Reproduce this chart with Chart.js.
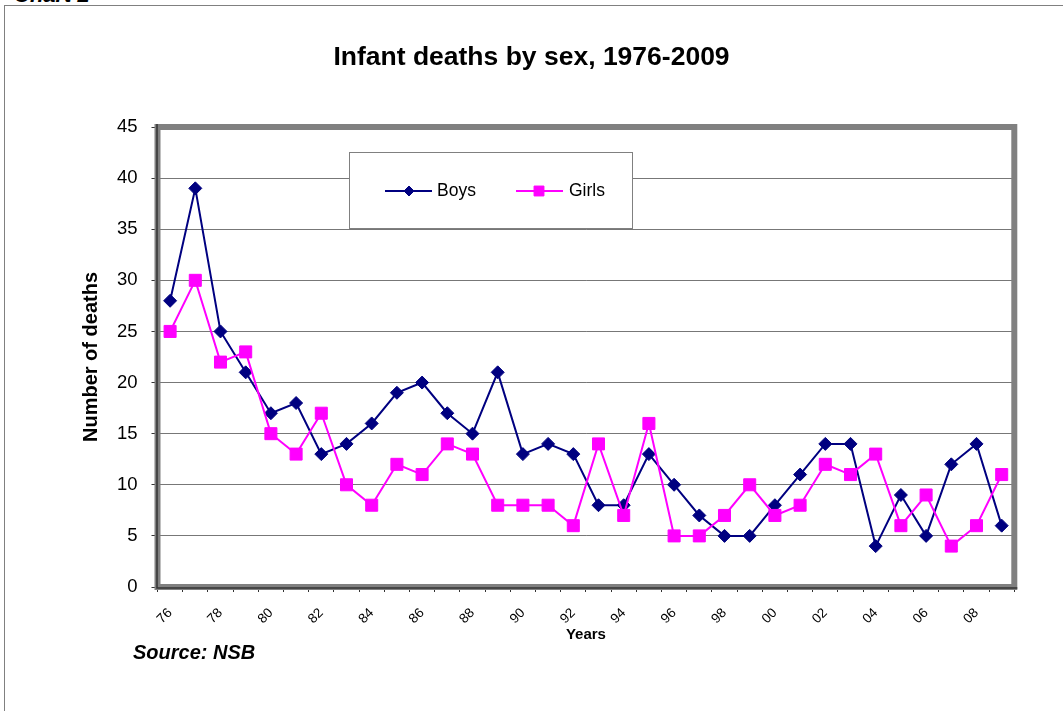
<!DOCTYPE html>
<html>
<head>
<meta charset="utf-8">
<script src="https://cdn.jsdelivr.net/npm/chart.js@4.4.0/dist/chart.umd.min.js"></script>
<style>
html,body{margin:0;padding:0;background:#fff;width:1063px;height:711px;overflow:hidden;position:relative;font-family:"Liberation Sans",Arial,sans-serif;}
#frame{position:absolute;left:4px;top:5px;width:1100px;height:800px;border:1px solid #808080;box-sizing:border-box;}
#caption{position:absolute;left:14px;top:-16px;font:italic bold 22px/22px "Liberation Sans",Arial,sans-serif;color:#000;white-space:nowrap;}
#source{position:absolute;left:133px;top:641px;font:italic bold 20px/22px "Liberation Sans",Arial,sans-serif;color:#000;white-space:nowrap;}
#wrap{position:absolute;left:0;top:0;width:1063px;height:711px;}
</style>
</head>
<body>
<div id="frame"></div>
<div id="caption">Chart 2</div>
<div id="wrap"><canvas id="c" width="1063" height="711"></canvas></div>
<div id="source">Source: NSB</div>
<script>
// ---- data ----
const years = ['76','77','78','79','80','81','82','83','84','85','86','87','88','89','90','91','92','93','94','95','96','97','98','99','00','01','02','03','04','05','06','07','08','09'];
const boys  = [28,39,25,21,17,18,13,14,16,19,20,17,15,21,13,14,13,8,8,13,10,7,5,5,8,11,14,14,4,9,5,12,14,6];
const girls = [25,30,22,23,15,13,17,10,8,12,11,14,13,8,8,8,6,14,7,16,5,5,7,10,7,8,12,11,13,6,9,4,6,11];
const seriesNames = ['Boys','Girls'];
const yMin = 0, yMax = 45, yStep = 5;

const FONT = '"Liberation Sans", Arial, sans-serif';
Chart.defaults.font.family = FONT;
Chart.defaults.color = '#000';

const plotFrame = {
  id: 'plotFrame',
  beforeDatasetsDraw(chart) {
    const {ctx, chartArea: a} = chart;
    ctx.save();
    ctx.strokeStyle = '#808080';
    ctx.lineWidth = 6;
    ctx.strokeRect(a.left, a.top, a.right - a.left, a.bottom - a.top);
    ctx.strokeStyle = '#333';
    ctx.lineWidth = 1.5;
    ctx.beginPath();
    ctx.moveTo(a.left - 0.5, a.top - 3);
    ctx.lineTo(a.left - 0.5, a.bottom + 1);
    ctx.lineTo(a.right + 3, a.bottom + 1);
    ctx.stroke();
    ctx.restore();
  }
};

const boxLegend = {
  id: 'boxLegend',
  afterDraw(chart) {
    const ctx = chart.ctx;
    const bx = 349, by = 152, bw = 283, bh = 76;
    ctx.save();
    ctx.fillStyle = '#fff';
    ctx.fillRect(bx, by, bw, bh);
    ctx.strokeStyle = '#808080';
    ctx.lineWidth = 1;
    ctx.strokeRect(bx + 0.5, by + 0.5, bw, bh);
    const items = [
      {x0: 385, x1: 432, mx: 409, tx: 437, r: 5},
      {x0: 516, x1: 563, mx: 539, tx: 569, r: 7}
    ];
    const y = 191;
    chart.data.datasets.forEach((ds, i) => {
      const it = items[i];
      ctx.strokeStyle = ds.borderColor;
      ctx.lineWidth = 2;
      ctx.beginPath();
      ctx.moveTo(it.x0, y); ctx.lineTo(it.x1, y); ctx.stroke();
      ctx.fillStyle = ds.pointBackgroundColor;
      ctx.lineWidth = 1;
      Chart.helpers.drawPoint(ctx, {pointStyle: ds.pointStyle, rotation: 0, radius: it.r, borderWidth: 1}, it.mx, y);
      ctx.fillStyle = '#000';
      ctx.font = '17.5px ' + FONT;
      ctx.textBaseline = 'middle';
      ctx.textAlign = 'left';
      ctx.fillText(ds.label, it.tx, y);
    });
    ctx.restore();
  }
};

new Chart(document.getElementById('c'), {
  type: 'line',
  data: {
    labels: years,
    datasets: [
      {
        label: seriesNames[0], data: boys, order: 1,
        borderColor: '#000080', backgroundColor: '#000080',
        pointBackgroundColor: '#000080', pointBorderColor: '#000080',
        pointStyle: 'rectRot', pointRadius: 6.5, pointBorderWidth: 1,
        borderWidth: 2, tension: 0, fill: false
      },
      {
        label: seriesNames[1], data: girls, order: 0,
        borderColor: '#FF00FF', backgroundColor: '#FF00FF',
        pointBackgroundColor: '#FF00FF', pointBorderColor: '#FF00FF',
        pointStyle: 'rect', pointRadius: 8.5, pointBorderWidth: 1,
        borderWidth: 2, tension: 0, fill: false
      }
    ]
  },
  options: {
    responsive: false,
    animation: false,
    devicePixelRatio: 1,
    layout: {padding: {left: 48.7, right: 48.7, top: 0, bottom: 63.6}},
    plugins: {
      legend: {display: false},
      tooltip: {enabled: false},
      title: {
        display: true,
        text: 'Infant deaths by sex, 1976-2009',
        color: '#000',
        font: {size: 26.5, weight: 'bold', family: FONT},
        padding: {top: 42.2, bottom: 53}
      }
    },
    scales: {
      x: {
        type: 'category',
        offset: true,
        grid: {offset: true, drawOnChartArea: false, drawTicks: true, tickLength: 5, tickColor: '#333', color: '#333'},
        border: {display: false},
        ticks: {
          autoSkip: false, maxRotation: 45, minRotation: 45,
          font: {size: 13.5}, color: '#000', padding: 13,
          callback: (v, i) => (i % 2 === 0 ? years[i] : '')
        },
        title: {display: true, text: 'Years', color: '#000', font: {size: 15, weight: 'bold'}, padding: {top: 4, bottom: 4}},
        afterFit: s => { s.height = 60.4; }
      },
      y: {
        min: yMin, max: yMax,
        grid: {color: '#777', tickColor: '#333', tickLength: 6, lineWidth: 1},
        border: {display: false},
        ticks: {stepSize: yStep, font: {size: 18.5}, color: '#000', padding: 14},
        title: {display: true, text: 'Number of deaths', color: '#000', font: {size: 20, weight: 'bold'}, padding: {top: 31.1, bottom: 4}},
        afterFit: s => { s.width = 108.8; }
      }
    }
  },
  plugins: [plotFrame, boxLegend]
});
</script>
</body>
</html>
